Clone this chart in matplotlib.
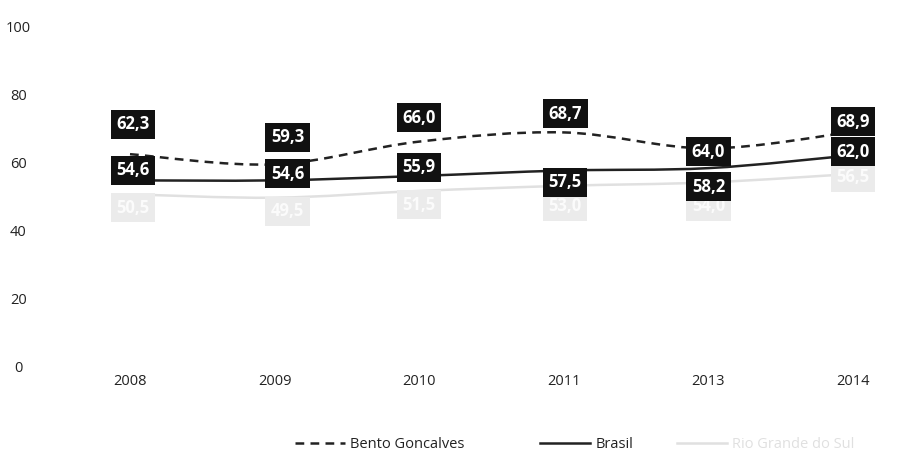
import numpy as np
import matplotlib.pyplot as plt
from matplotlib.path import Path
from matplotlib.patches import PathPatch
from matplotlib.lines import Line2D

YEARS = ["2008", "2009", "2010", "2011", "2013", "2014"]
BENTO = [62.3, 59.3, 66.0, 68.7, 64.0, 68.9]
BRASIL = [54.6, 54.6, 55.9, 57.5, 58.2, 62.0]
RS = [50.5, 49.5, 51.5, 53.0, 54.0, 56.5]

# label offsets in data units (style only)
BENTO_OFF = [8.8, 8, 7, 5.5, -1, 3]
BRASIL_OFF = [3, 2, 2.5, -3.5, -5.5, 1]
RS_OFF = [-4, -4, -4, -6, -7, -1]
LABEL_DX = [0.02, 0.09, 0, 0.01, 0, 0]

plt.rcParams["font.family"] = ["Open Sans", "DejaVu Sans"]


def smooth_path(x, y):
    # Excel-like smoothed line: cubic bezier through the points
    x = np.asarray(x, float)
    y = np.asarray(y, float)
    verts = [(x[0], y[0])]
    codes = [Path.MOVETO]
    n = len(x)
    t = 1 / 6
    for i in range(n - 1):
        p0 = (x[i - 1], y[i - 1]) if i > 0 else (x[i], y[i])
        p1 = (x[i], y[i])
        p2 = (x[i + 1], y[i + 1])
        p3 = (x[i + 2], y[i + 2]) if i + 2 < n else p2
        c1 = (p1[0] + (p2[0] - p0[0]) * t, p1[1] + (p2[1] - p0[1]) * t)
        c2 = (p2[0] - (p3[0] - p1[0]) * t, p2[1] - (p3[1] - p1[1]) * t)
        verts += [c1, c2, p2]
        codes += [Path.CURVE4] * 3
    return Path(verts, codes)


fig = plt.figure(figsize=(9.02, 4.59), dpi=100)
ax = fig.add_axes([60 / 902, 1 - 366 / 459, 835 / 902, 340 / 459])

x = np.arange(len(YEARS))
DASH = (0, (3.5, 2.5))
series = [
    (RS, "#e0e0e0", "-", RS_OFF, "#ebebeb", "#fbfbfb"),
    (BRASIL, "#222222", "-", BRASIL_OFF, "#111111", "white"),
    (BENTO, "#222222", DASH, BENTO_OFF, "#111111", "white"),
]
for vals, col, ls, offs, box, txt in series:
    patch = PathPatch(smooth_path(x, vals), facecolor="none", edgecolor=col,
                      lw=1.8, linestyle=ls, clip_on=False)
    ax.add_patch(patch)
    for xi, v, o, dx in zip(x, vals, offs, LABEL_DX):
        ax.text(xi + dx, v + o, f"{v:.1f}".replace(".", ","), ha="center", va="center",
                color=txt, fontsize=12, fontweight="bold",
                bbox=dict(boxstyle="square,pad=0.33", fc=box, ec="none"))

ax.set_xlim(-0.484, 5.29)
ax.set_ylim(0, 100)
ax.set_xticks(x)
ax.set_xticklabels(YEARS)
ax.set_yticks([0, 20, 40, 60, 80, 100])
for s in ax.spines.values():
    s.set_visible(False)
ax.tick_params(length=0, labelsize=10.5, colors="#222222")
ax.tick_params(axis="x", pad=6)
ax.tick_params(axis="y", pad=30)
for lab in ax.get_yticklabels():
    lab.set_horizontalalignment("center")

legend_items = [
    (Line2D([], [], color="#222222", lw=1.8, linestyle=DASH), "Bento Goncalves", 295, "#222222"),
    (Line2D([], [], color="#222222", lw=1.8), "Brasil", 540, "#222222"),
    (Line2D([], [], color="#e0e0e0", lw=1.8), "Rio Grande do Sul", 677, "#e0e0e0"),
]
for h, lab, px, tc in legend_items:
    leg = fig.legend([h], [lab], loc="center left",
                     bbox_to_anchor=(px / 902, 1 - 445 / 459), frameon=False,
                     fontsize=10.5, handlelength=3.4, handletextpad=0.4,
                     borderpad=0, borderaxespad=0)
    leg.get_texts()[0].set_color(tc)

fig.savefig("out.png", dpi=100)
